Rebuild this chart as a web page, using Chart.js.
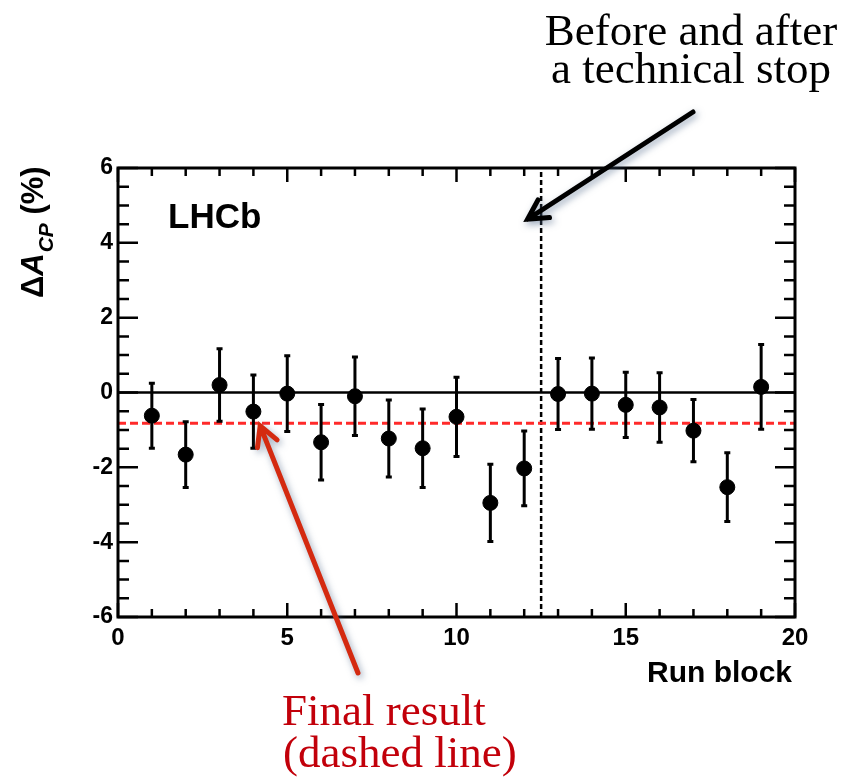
<!DOCTYPE html>
<html>
<head>
<meta charset="utf-8">
<title>Delta A_CP per run block</title>
<script src="https://cdn.jsdelivr.net/npm/chart.js@4.4.1/dist/chart.umd.min.js"></script>
<style>
  html, body { margin: 0; padding: 0; background: #fff; }
  #grafico { display: block; }
</style>
</head>
<body>
<canvas id="grafico" width="855" height="781"></canvas>
<script>
// ======= Dados =======
const runBlock = [1, 2, 3, 4, 5, 6, 7, 8, 9, 10, 11, 12, 13, 14, 15, 16, 17, 18, 19];
const deltaAcp = [-0.62, -1.66, 0.20, -0.51, -0.03, -1.33, -0.10, -1.23, -1.49, -0.65,
                  -2.95, -2.03, -0.04, -0.03, -0.33, -0.40, -1.02, -2.53, 0.15];
const deltaAcpErr = [0.87, 0.88, 0.97, 0.98, 1.01, 1.01, 1.05, 1.03, 1.05, 1.06,
                     1.03, 1.00, 0.95, 0.95, 0.87, 0.93, 0.83, 0.92, 1.13];
const finalResult = -0.82;
const technicalStop = 12.5;
const xRange = [0, 20];
const yRange = [-6, 6];
const xTickStep = 5;
const yTickStep = 2;

// ======= Estilos =======
const SANS = '"Liberation Sans", Arial, sans-serif';
const SERIF = '"Liberation Serif", "Times New Roman", serif';
const VERMELHO_TEXTO = "#c2000a";
const VERMELHO_SETA = "#d42a10";

// ======= Plugins =======
// barras de erro verticais com pequenas pontas
const barrasErro = {
  id: "barrasErro",
  afterDatasetsDraw(chart) {
    const { ctx, scales: { x, y } } = chart;
    ctx.save();
    ctx.strokeStyle = "#000";
    ctx.lineWidth = 3;
    runBlock.forEach((rb, i) => {
      const px = x.getPixelForValue(rb);
      const top = y.getPixelForValue(deltaAcp[i] + deltaAcpErr[i]);
      const bot = y.getPixelForValue(deltaAcp[i] - deltaAcpErr[i]);
      ctx.beginPath();
      ctx.moveTo(px, top); ctx.lineTo(px, bot);
      ctx.moveTo(px - 3, top); ctx.lineTo(px + 3, top);
      ctx.moveTo(px - 3, bot); ctx.lineTo(px + 3, bot);
      ctx.stroke();
    });
    ctx.restore();
  }
};

// moldura com marcas para dentro nos quatro lados
const moldura = {
  id: "moldura",
  afterDraw(chart) {
    const { ctx, chartArea: a, scales: { x, y } } = chart;
    ctx.save();
    ctx.strokeStyle = "#000";
    ctx.lineWidth = 3;
    ctx.strokeRect(a.left, a.top, a.right - a.left, a.bottom - a.top);
    ctx.lineWidth = 2.5;
    ctx.beginPath();
    for (let v = xRange[0]; v <= xRange[1]; v += 1) {
      const px = x.getPixelForValue(v);
      const len = v % xTickStep === 0 ? 14 : 8;
      ctx.moveTo(px, a.bottom); ctx.lineTo(px, a.bottom - len);
      ctx.moveTo(px, a.top); ctx.lineTo(px, a.top + len);
    }
    for (let v = yRange[0]; v <= yRange[1]; v += 0.5) {
      const py = y.getPixelForValue(v);
      const len = v % yTickStep === 0 ? 20 : 11;
      ctx.moveTo(a.left, py); ctx.lineTo(a.left + len, py);
      ctx.moveTo(a.right, py); ctx.lineTo(a.right - len, py);
    }
    ctx.stroke();
    ctx.restore();
  }
};

function seta(ctx, x0, y0, x1, y1, cor) {
  const ang = Math.atan2(y0 - y1, x0 - x1);
  const barb = 22, abertura = 0.5;
  ctx.save();
  ctx.strokeStyle = cor;
  ctx.lineWidth = 5;
  ctx.lineCap = "round";
  ctx.shadowColor = "rgba(70, 95, 130, 0.55)";
  ctx.shadowBlur = 7;
  ctx.shadowOffsetX = 2;
  ctx.shadowOffsetY = 3;
  ctx.beginPath();
  ctx.moveTo(x0, y0); ctx.lineTo(x1, y1);
  ctx.moveTo(x1 + barb * Math.cos(ang + abertura), y1 + barb * Math.sin(ang + abertura));
  ctx.lineTo(x1, y1);
  ctx.lineTo(x1 + barb * Math.cos(ang - abertura), y1 + barb * Math.sin(ang - abertura));
  ctx.stroke();
  ctx.restore();
}

// textos, títulos dos eixos e setas de anotação
const anotacoes = {
  id: "anotacoes",
  afterDraw(chart) {
    const { ctx, chartArea: a, scales: { x, y } } = chart;
    ctx.save();
    ctx.fillStyle = "#000";
    ctx.textBaseline = "alphabetic";

    // LHCb
    ctx.font = "bold 35px " + SANS;
    ctx.textAlign = "left";
    ctx.fillText("LHCb", a.left + 50, y.getPixelForValue(4.4));

    // título do eixo x
    ctx.font = "bold 30px " + SANS;
    ctx.textAlign = "right";
    ctx.fillText("Run block", a.right - 3, a.bottom + 65);

    // título do eixo y: ΔA_CP (%)
    ctx.save();
    ctx.translate(43, 298);
    ctx.rotate(-Math.PI / 2);
    ctx.textAlign = "left";
    let cx = 0;
    ctx.font = "bold 31px " + SANS;
    ctx.fillText("\u0394", cx, 0); cx += ctx.measureText("\u0394").width;
    ctx.font = "italic bold 31px " + SANS;
    ctx.fillText("A", cx, 0); cx += ctx.measureText("A").width + 1;
    ctx.font = "italic bold 21px " + SANS;
    ctx.fillText("CP", cx, 10); cx += ctx.measureText("CP").width;
    ctx.font = "bold 31px " + SANS;
    ctx.fillText(" (%)", cx, 0);
    ctx.restore();

    // anotação superior
    ctx.font = "45px " + SERIF;
    ctx.textAlign = "center";
    ctx.fillText("Before and after", 691, 45);
    ctx.fillText("a technical stop", 691, 83);
    seta(ctx, 693, 112, x.getPixelForValue(12.1), y.getPixelForValue(4.63), "#000");

    // anotação inferior
    seta(ctx, 358, 673, x.getPixelForValue(4.2), y.getPixelForValue(finalResult - 0.07), VERMELHO_SETA);
    ctx.fillStyle = VERMELHO_TEXTO;
    ctx.font = "45px " + SERIF;
    ctx.textAlign = "left";
    ctx.fillText("Final result", 282, 725);
    ctx.fillText("(dashed line)", 283, 767);
    ctx.restore();
  }
};

// ======= Gráfico =======
const ctx = document.getElementById("grafico").getContext("2d");
const grafico = new Chart(ctx, {
  type: "scatter",
  data: {
    datasets: [
      {
        label: "ΔA_CP",
        data: runBlock.map((rb, i) => ({ x: rb, y: deltaAcp[i] })),
        backgroundColor: "#000",
        borderColor: "#000",
        pointRadius: 7.5,
        pointHoverRadius: 7.5,
        showLine: false
      },
      {
        label: "zero",
        data: [{ x: xRange[0], y: 0 }, { x: xRange[1], y: 0 }],
        showLine: true,
        borderColor: "#000",
        borderWidth: 2.5,
        pointRadius: 0
      },
      {
        label: "Final result",
        data: [{ x: xRange[0], y: finalResult }, { x: xRange[1], y: finalResult }],
        showLine: true,
        borderColor: "#ff2a2a",
        borderWidth: 3,
        borderDash: [8, 4],
        pointRadius: 0
      },
      {
        label: "Technical stop",
        data: [{ x: technicalStop, y: yRange[0] }, { x: technicalStop, y: yRange[1] }],
        showLine: true,
        borderColor: "#000",
        borderWidth: 2.5,
        borderDash: [5, 3],
        pointRadius: 0
      }
    ]
  },
  options: {
    responsive: false,
    animation: false,
    devicePixelRatio: 1,
    layout: { padding: { top: 168, right: 60, left: 0, bottom: 0 } },
    plugins: {
      legend: { display: false },
      tooltip: { enabled: false },
      title: { display: false }
    },
    scales: {
      x: {
        type: "linear",
        min: xRange[0],
        max: xRange[1],
        grid: { display: false, drawTicks: false },
        border: { display: false },
        ticks: {
          stepSize: xTickStep,
          padding: 7,
          color: "#000",
          font: { family: SANS, size: 24, weight: "bold" }
        },
        afterFit(scale) { scale.height = 164; }
      },
      y: {
        type: "linear",
        min: yRange[0],
        max: yRange[1],
        grid: { display: false, drawTicks: false },
        border: { display: false },
        ticks: {
          stepSize: yTickStep,
          padding: 5,
          color: "#000",
          font: { family: SANS, size: 23, weight: "bold" }
        },
        afterFit(scale) { scale.width = 118; }
      }
    }
  },
  plugins: [barrasErro, moldura, anotacoes]
});
</script>
</body>
</html>
